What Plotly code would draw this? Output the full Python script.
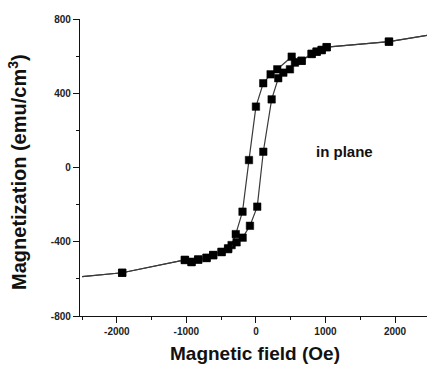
import plotly.graph_objects as go

# Descending branch (field swept from +2500 to -2500 Oe)
h_down = [2500, 1913, 1017, 945, 873, 801, 657, 514, 307, 211, 105, 0, -100, -193,
          -290, -350, -400, -494, -614, -710, -830, -926, -1022, -1923, -2500]
m_down = [714, 678, 648, 633, 624, 612, 575, 597, 529, 502, 454, 328, 40, -238,
          -359, -418, -435, -454, -471, -486, -495, -508, -498, -567, -588]

# Ascending branch (field swept from -2500 to +2500 Oe)
h_up = [-2500, -1923, -1022, -926, -830, -710, -614, -494, -399, -278, -191, -86, 19,
        106, 226, 321, 394, 489, 561, 657, 801, 873, 945, 1017, 1913, 2500]
m_up = [-588, -567, -498, -510, -497, -488, -473, -456, -440, -403, -378, -314, -211,
        85, 367, 481, 511, 529, 565, 575, 612, 624, 633, 648, 678, 714]

x_ticks = [-2000, -1000, 0, 1000, 2000]
x_labels = ["-2000", "-1000", "0", "1000", "2000"]
y_ticks = [-800, -400, 0, 400, 800]
y_labels = ["-800", "-400", "0", "400", "800"]

FONT = "Liberation Sans, Arial, sans-serif"

fig = go.Figure()
for hx, my in [(h_down, m_down), (h_up, m_up)]:
    # end points lie at the plot edge, where the sweep leaves the frame: no marker there
    sizes = [0 if abs(v) >= 2500 else 7.5 for v in hx]
    fig.add_trace(go.Scatter(
        x=hx, y=my, mode="lines+markers",
        line=dict(color="#3a3a3a", width=1.2),
        marker=dict(symbol="square", size=sizes, color="black", opacity=1,
                    line=dict(width=0.5, color="black")),
        showlegend=False,
    ))

axis_common = dict(
    showgrid=False, zeroline=False, showline=True, linecolor="#111111", linewidth=1.3,
    ticks="outside", ticklen=6, tickwidth=1.2, tickcolor="#111111",
    tickfont=dict(family=FONT, size=10, color="#222222", weight="bold"),
)

fig.update_layout(
    width=427, height=373,
    margin=dict(l=80, r=0, t=19, b=57),
    paper_bgcolor="white", plot_bgcolor="white",
    xaxis=dict(range=[-2530, 2460], tickvals=x_ticks, ticktext=x_labels,
               minor=dict(dtick=500, ticks="outside", ticklen=3, tickcolor="#111111"),
               **axis_common),
    yaxis=dict(range=[-800, 800], tickvals=y_ticks, ticktext=y_labels,
               minor=dict(dtick=200, ticks="outside", ticklen=3, tickcolor="#111111"),
               **axis_common),
    annotations=[
        dict(text="in plane", x=1280, y=84, xref="x", yref="y", showarrow=False,
             font=dict(family=FONT, size=15, color="#111111", weight="bold")),
        dict(text="Magnetic field (Oe)", x=0.504, y=0, xref="paper", yref="paper",
             yshift=-37, showarrow=False, yanchor="middle",
             font=dict(family=FONT, size=19, color="#111111", weight="bold")),
        dict(text="Magnetization (emu/cm<sup>3</sup>)", x=0, y=0.485, xref="paper",
             yref="paper", xshift=-62, textangle=-90, showarrow=False,
             xanchor="center", yanchor="middle",
             font=dict(family=FONT, size=20, color="#111111", weight="bold")),
    ],
)

fig.write_html("out.html")
